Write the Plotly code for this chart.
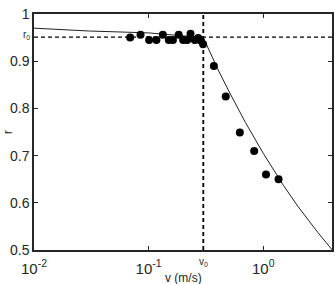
import math
import plotly.graph_objects as go

# measured points
v_data = [0.069, 0.085, 0.101, 0.117, 0.133, 0.150, 0.163, 0.183, 0.200, 0.217,
          0.232, 0.253, 0.271, 0.284, 0.299, 0.371, 0.471, 0.625, 0.834, 1.057, 1.36]
r_data = [0.950, 0.956, 0.945, 0.945, 0.956, 0.945, 0.945, 0.956, 0.945, 0.945,
          0.958, 0.945, 0.949, 0.944, 0.936, 0.890, 0.825, 0.749, 0.710, 0.660, 0.650]

# fitted curve
v_fit = [0.01, 0.03, 0.1, 0.2, 0.3, 0.4, 0.5, 0.7, 1.0, 1.5, 2.0, 3.0, 4.0]
r_fit = [0.970, 0.964, 0.960, 0.954, 0.950, 0.884, 0.837, 0.770, 0.705, 0.637, 0.593, 0.537, 0.500]

v0 = 0.30
r0 = 0.951

x_tickvals = [0.01, 0.1, 1]
x_ticktext = ["10<sup>-2</sup>", "10<sup>-1</sup>", "10<sup>0</sup>"]
y_tickvals = [0.5, 0.6, 0.7, 0.8, 0.9, 1.0]
y_ticktext = ["0.5", "0.6", "0.7", "0.8", "0.9", "1"]

FONT = "Liberation Sans, Arial, sans-serif"
AX = "#262626"
TXT = "#262626"

fig = go.Figure()
fig.add_trace(go.Scatter(x=v_fit, y=r_fit, mode="lines",
                         line=dict(color="#222222", width=1), hoverinfo="skip"))
fig.add_trace(go.Scatter(x=v_data, y=r_data, mode="markers",
                         marker=dict(color="black", size=8, line=dict(width=0))))

fig.add_shape(type="line", xref="x", yref="paper", x0=v0, x1=v0, y0=0, y1=1,
              line=dict(color="black", width=1.8, dash="4px,3px"))
fig.add_shape(type="line", xref="paper", yref="y", x0=0, x1=1, y0=r0, y1=r0,
              line=dict(color="black", width=1.3, dash="4px,3px"))

fig.add_annotation(x=math.log10(v0), xref="x", y=0, yref="paper", yshift=-4,
                   text="v<sub>0</sub>", showarrow=False, yanchor="top",
                   font=dict(family=FONT, size=10, color=TXT))
fig.add_annotation(x=0, xref="paper", y=r0, yref="y", xshift=-2, yshift=2,
                   text="r<sub>0</sub>", showarrow=False, xanchor="right",
                   font=dict(family=FONT, size=10, color=TXT))
# x-axis title
fig.add_annotation(x=0.5, xref="paper", y=0, yref="paper", yshift=-19,
                   text="v (m/s)", showarrow=False, yanchor="top",
                   font=dict(family=FONT, size=12, color=TXT))

fig.update_layout(
    width=335, height=284,
    margin=dict(l=34, r=3, t=14, b=34),
    paper_bgcolor="white", plot_bgcolor="white",
    showlegend=False,
    font=dict(family=FONT, size=14, color=TXT),
    xaxis=dict(type="log", range=[-2, 0.6], tickvals=x_tickvals, ticktext=x_ticktext,
               ticks="inside", ticklen=4, tickcolor=AX, showline=True, linecolor=AX,
               linewidth=1.5, mirror="ticks", showgrid=False, zeroline=False,
               tickfont=dict(size=15), ticklabelstandoff=4, automargin=False),
    yaxis=dict(range=[0.5, 1.0], tickvals=y_tickvals, ticktext=y_ticktext,
               ticks="inside", ticklen=4, tickcolor=AX, showline=True, linecolor=AX,
               linewidth=1.5, mirror="ticks", showgrid=False, zeroline=False,
               tickfont=dict(size=14), ticklabelstandoff=0, automargin=False,
               title=dict(text="r", font=dict(size=13), standoff=4)),
)

fig.write_html("out.html")
